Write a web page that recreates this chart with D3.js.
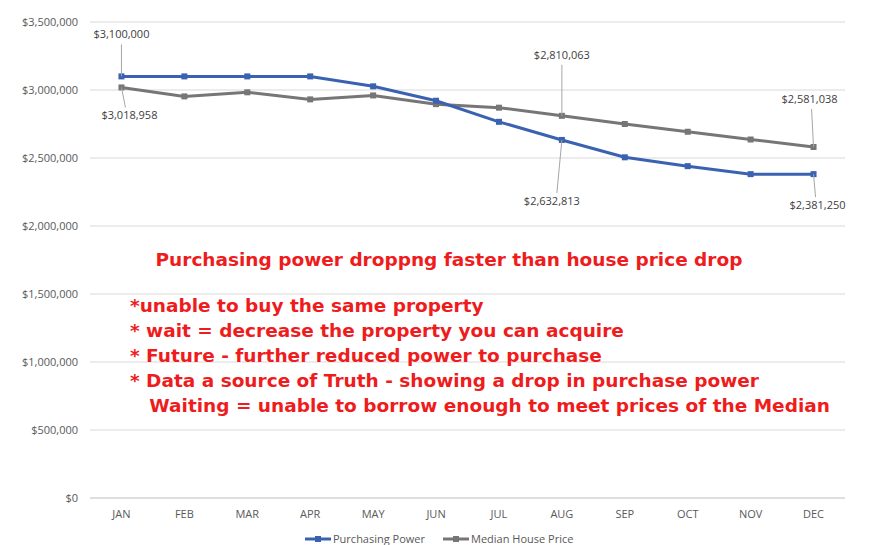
<!DOCTYPE html>
<html><head><meta charset="utf-8">
<script src="https://cdn.jsdelivr.net/npm/d3@7"></script>
<style>body{margin:0;background:#fff}</style>
</head><body><div id="chart"></div>
<script>
var months = ["JAN","FEB","MAR","APR","MAY","JUN","JUL","AUG","SEP","OCT","NOV","DEC"];
var purchasing = [3100000,3100000,3100000,3100000,3027000,2921000,2766000,2632813,2505000,2440000,2381250,2381250];
var median = [3018958,2953000,2983000,2931000,2960000,2896000,2870000,2810063,2750000,2693000,2636000,2581038];
var yTicks = [0,500000,1000000,1500000,2000000,2500000,3000000,3500000];
var notes = ["*unable to buy the same property","* wait = decrease the property you can acquire",
  "* Future - further reduced power to purchase","* Data a source of Truth - showing a drop in purchase power",
  "   Waiting = unable to borrow enough to meet prices of the Median"];

var svg = d3.select("#chart").append("svg").attr("width",889).attr("height",545);
var x = d3.scalePoint().domain(months).range([90,845]).padding(0.5);
var y = d3.scaleLinear().domain([0,3500000]).range([498,22]);
var fmt = function(v){ return "$" + d3.format(",")(v); };
var redFont = "bold 18.5px 'DejaVu Sans', sans-serif";

// grid + y axis labels
svg.selectAll(".grid").data(yTicks).enter().append("line")
  .attr("x1",90).attr("x2",845).attr("y1",y).attr("y2",y)
  .attr("stroke", function(d){ return d==0 ? "#bfbfbf" : "#d9d9d9"; });
svg.selectAll(".ylab").data(yTicks).enter().append("text")
  .attr("x",78).attr("y",function(d){return y(d)+4;}).attr("text-anchor","end")
  .style("font","11px 'Open Sans', sans-serif").attr("fill","#595959").text(fmt);
svg.selectAll(".xlab").data(months).enter().append("text")
  .attr("x",function(d){return x(d);}).attr("y",518).attr("text-anchor","middle")
  .style("font","11px 'Open Sans', sans-serif").attr("fill","#595959").text(function(d){return d;});

var series = [{v:median,c:"#767676"},{v:purchasing,c:"#3a62b0"}];
var line = d3.line().x(function(d,i){return x(months[i]);}).y(function(d){return y(d);});
series.forEach(function(s){
  svg.append("path").attr("d",line(s.v)).attr("fill","none").attr("stroke",s.c).attr("stroke-width",3);
  svg.selectAll(null).data(s.v).enter().append("rect")
    .attr("x",function(d,i){return x(months[i])-3;}).attr("y",function(d){return y(d)-3;})
    .attr("width",6).attr("height",6).attr("fill",s.c);
});

// data labels with leader lines
var callouts = [
  {s:purchasing,i:0,dx:0,dy:-38},{s:median,i:0,dx:8,dy:32},
  {s:median,i:7,dx:0,dy:-57},{s:purchasing,i:7,dx:-10,dy:65},
  {s:median,i:11,dx:-4,dy:-44},{s:purchasing,i:11,dx:4,dy:35}];
callouts.forEach(function(c){
  var px = x(months[c.i]), py = y(c.s[c.i]);
  var ly = py + c.dy;
  svg.append("line").attr("x1",px).attr("y1",py).attr("x2",px+c.dx*0.5)
    .attr("y2", c.dy<0 ? ly+6 : ly-12).attr("stroke","#a6a6a6");
  svg.append("text").attr("x",px+c.dx).attr("y",ly).attr("text-anchor","middle")
    .style("font","11px 'Open Sans', sans-serif").attr("fill","#404040").text(fmt(c.s[c.i]));
});

svg.append("text").attr("x",449).attr("y",266).attr("text-anchor","middle")
  .style("font",redFont).attr("fill","#ee1c1c")
  .text("Purchasing power droppng faster than house price drop");
svg.selectAll(".note").data(notes).enter().append("text")
  .attr("x",130).attr("y",function(d,i){return 312+i*25;})
  .style("white-space","pre")
  .style("font",redFont).attr("fill","#ee1c1c")
  .text(function(d){return d;});

// legend
var leg = [{t:"Purchasing Power",c:"#3a62b0",x:305},{t:"Median House Price",c:"#767676",x:443}];
leg.forEach(function(l){
  svg.append("line").attr("x1",l.x).attr("x2",l.x+26).attr("y1",539).attr("y2",539).attr("stroke",l.c).attr("stroke-width",3);
  svg.append("rect").attr("x",l.x+10).attr("y",536).attr("width",6).attr("height",6).attr("fill",l.c);
  svg.append("text").attr("x",l.x+28).attr("y",543).style("font","11px 'Open Sans', sans-serif").attr("fill","#595959").text(l.t);
});
</script></body></html>
